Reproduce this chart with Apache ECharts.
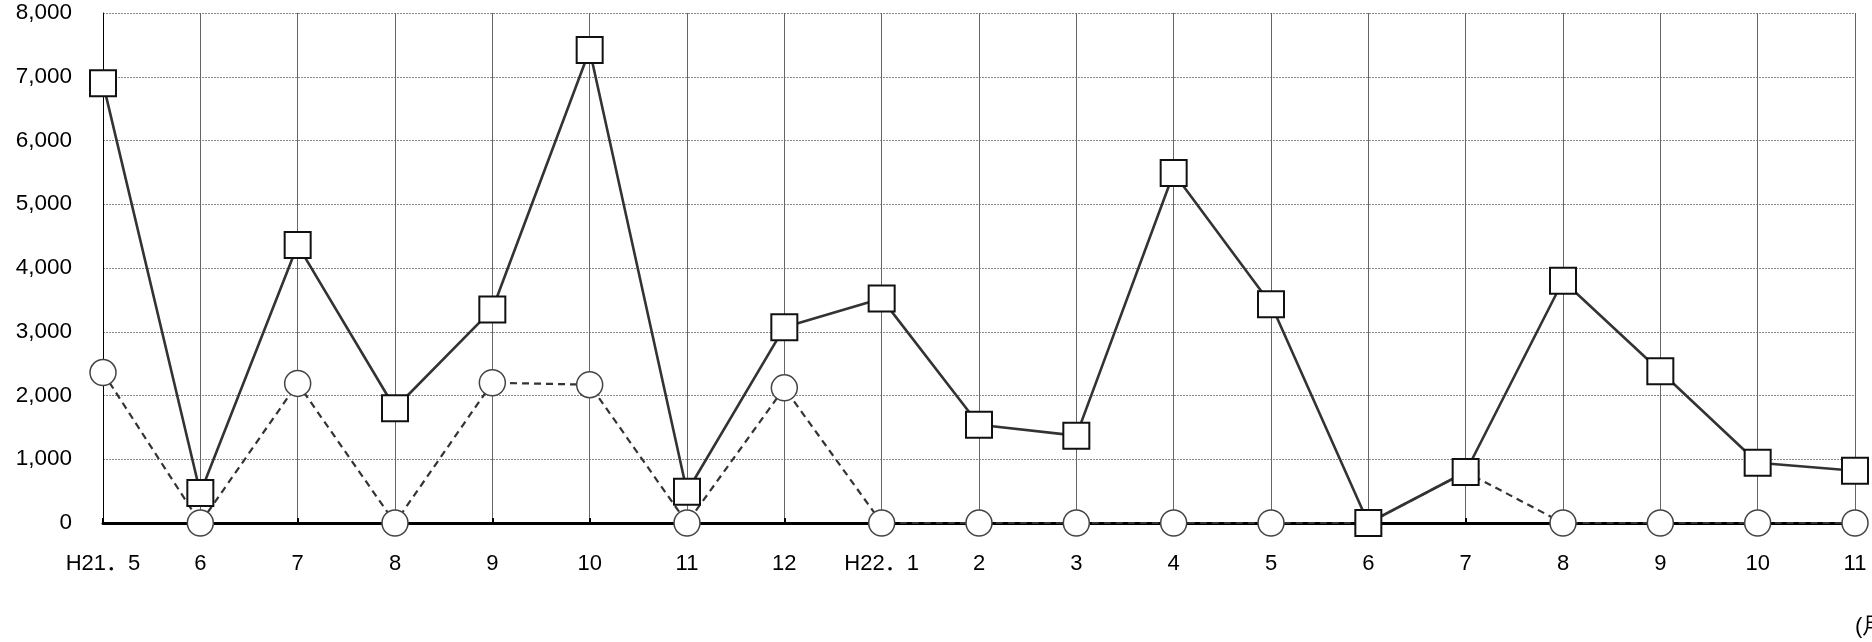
<!DOCTYPE html>
<html>
<head>
<meta charset="utf-8">
<script src="https://cdn.jsdelivr.net/npm/echarts@6/dist/echarts.min.js"></script>
<style>
html,body{margin:0;padding:0;background:#fff;}
#c{width:1872px;height:642px;}
</style>
</head>
<body>
<div id="c"></div>
<script>
const categories = ['H21．5','6','7','8','9','10','11','12','H22．1','2','3','4','5','6','7','8','9','10','11'];
const squareSeries = [6900,470,4360,1800,3350,7420,490,3070,3520,1540,1370,5490,3430,0,800,3800,2380,945,820];
const circleSeries = [2360,0,2190,0,2200,2170,0,2120,0,0,0,0,0,0,800,0,0,0,0];
const yTicks = {min:0,max:8000,interval:1000};
const unitLabel = '(月)';

const FONT = '"Liberation Sans","Noto Sans CJK JP",sans-serif';
const chart = echarts.init(document.getElementById('c'), null, {renderer:'canvas'});
chart.setOption({
  animation:false,
  backgroundColor:'#fff',
  grid:{left:103,right:17,top:13,bottom:119,containLabel:false},
  xAxis:{
    type:'category',
    data:categories,
    boundaryGap:false,
    axisLine:{show:true,onZero:true,lineStyle:{color:'#000',width:3}},
    axisTick:{show:true,inside:true,length:5,alignWithLabel:true,lineStyle:{color:'#000',width:2}},
    axisLabel:{color:'#000',fontSize:22,fontFamily:FONT,margin:30,interval:0},
    splitLine:{show:true,lineStyle:{color:'#666',width:1,type:'solid'}}
  },
  yAxis:{
    type:'value',
    min:yTicks.min,max:yTicks.max,interval:yTicks.interval,
    axisLine:{show:true,lineStyle:{color:'#000',width:1}},
    axisTick:{show:false},
    axisLabel:{color:'#000',fontSize:22.5,fontFamily:FONT,margin:31,
      formatter:v=>v.toLocaleString('en-US')},
    splitLine:{show:true,lineStyle:{color:'#888',width:1,type:[2,1]}}
  },
  series:[
    {
      type:'line',
      data:circleSeries,
      symbol:'circle',symbolSize:26,
      showAllSymbol:true,
      z:3,
      lineStyle:{color:'#333',width:2.2,type:[7,5]},
      itemStyle:{color:'#fff',borderColor:'#444',borderWidth:1.5}
    },
    {
      type:'line',
      data:squareSeries,
      symbol:'rect',symbolSize:26,
      showAllSymbol:true,
      z:4,
      lineStyle:{color:'#333',width:2.6},
      itemStyle:{color:'#fff',borderColor:'#111',borderWidth:2}
    }
  ],
  graphic:[
    {type:'text',left:1855,top:616,style:{text:unitLabel,fontSize:22,fontFamily:FONT,fill:'#000'}}
  ]
});
</script>
</body>
</html>
